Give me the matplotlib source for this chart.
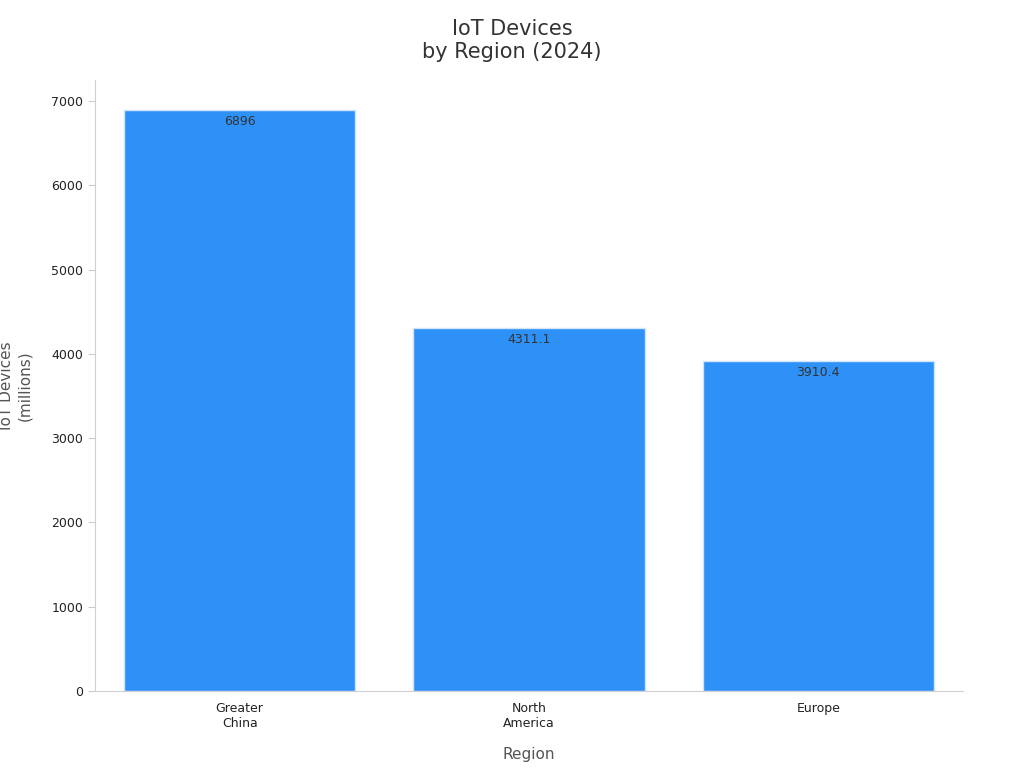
import matplotlib
matplotlib.use("Agg")
import matplotlib.pyplot as plt

categories = ["Greater\nChina", "North\nAmerica", "Europe"]
values = [6896, 4311.1, 3910.4]
labels = ["6896", "4311.1", "3910.4"]

fig = plt.figure(figsize=(10.24, 7.68), dpi=100)
ax = fig.add_axes([0.0928, 0.1003, 0.8476, 0.7957])
x = range(len(categories))
ax.bar(x, values, width=0.8, color="#2E91F8", edgecolor="#d0e4fb", linewidth=1, zorder=2)
for i, (v, l) in enumerate(zip(values, labels)):
    ax.text(i, v - 60, l, ha="center", va="top", fontsize=9, color="#333333")
ax.set_xlim(-0.5, 2.5)
ax.set_ylim(0, 7250)
ax.set_xticks(list(x))
ax.set_xticklabels(categories, fontsize=9, color="#222222")
ax.set_yticks(range(0, 7001, 1000))
ax.tick_params(axis="y", labelsize=9, colors="#222222", length=5, color="#cccccc")
ax.tick_params(axis="x", length=0, pad=8)
for s in ["top", "right"]:
    ax.spines[s].set_visible(False)
for s in ["left", "bottom"]:
    ax.spines[s].set_color("#d0d0d0")
ax.set_xlabel("Region", fontsize=11, color="#555555", labelpad=12)
ax.set_ylabel("IoT Devices\n(millions)", fontsize=11, color="#555555", labelpad=14)
fig.suptitle("IoT Devices\nby Region (2024)", fontsize=15, color="#333333", y=0.975)
fig.savefig("out.png", dpi=100)
